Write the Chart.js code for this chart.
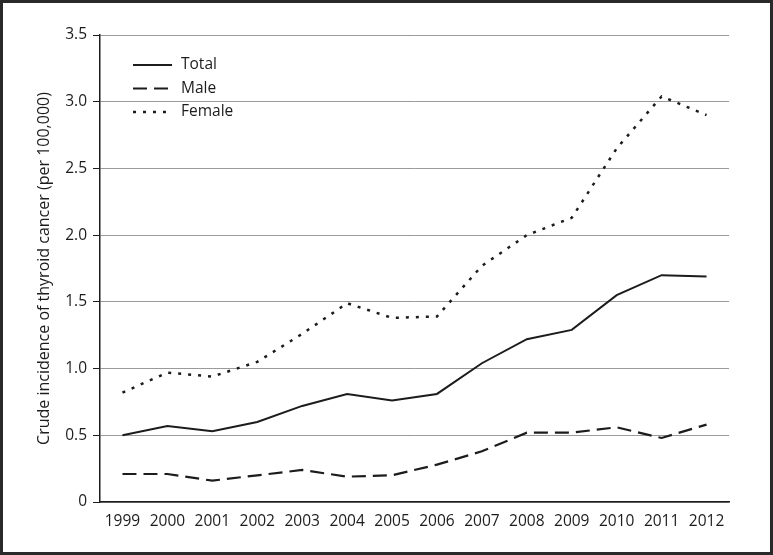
<!DOCTYPE html>
<html>
<head>
<meta charset="utf-8">
<script src="https://cdn.jsdelivr.net/npm/chart.js@4"></script>
<style>
  html, body { margin: 0; padding: 0; background: #fff; }
  #wrap { width: 773px; height: 555px; position: relative; }
</style>
</head>
<body>
<div id="wrap"><canvas id="chart" width="773" height="555"></canvas></div>
<script>
const years = ['1999', '2000', '2001', '2002', '2003', '2004', '2005', '2006', '2007', '2008', '2009', '2010', '2011', '2012'];
const totalValues = [0.50, 0.57, 0.53, 0.60, 0.72, 0.81, 0.76, 0.81, 1.04, 1.22, 1.29, 1.55, 1.70, 1.69];
const maleValues = [0.21, 0.21, 0.16, 0.20, 0.24, 0.19, 0.20, 0.28, 0.38, 0.52, 0.52, 0.56, 0.48, 0.58];
const femaleValues = [0.82, 0.97, 0.94, 1.05, 1.26, 1.49, 1.38, 1.39, 1.77, 2.00, 2.13, 2.65, 3.04, 2.90];
const yTicks = [0, 0.5, 1.0, 1.5, 2.0, 2.5, 3.0, 3.5];

const FONT = "'Open Sans', 'Noto Sans', sans-serif";
const INK = '#1c1c1c';

// legend drawn inside the plot, top-left, plus the outer frame
const extras = {
    id: 'extras',
    afterDraw(chart) {
        const ctx = chart.ctx;
        ctx.save();
        chart.data.datasets.forEach((ds, i) => {
            const y = 65 + i * 23.5;
            ctx.beginPath();
            ctx.strokeStyle = ds.borderColor;
            ctx.lineWidth = ds.borderWidth;
            ctx.setLineDash(ds.borderDash || []);
            ctx.moveTo(133, y);
            ctx.lineTo(172, y);
            ctx.stroke();
            ctx.setLineDash([]);
            ctx.fillStyle = INK;
            ctx.font = '15.5px ' + FONT;
            ctx.textBaseline = 'middle';
            ctx.fillText(ds.label, 181, y);
        });
        ctx.strokeStyle = '#2a2a2a';
        ctx.lineWidth = 3;
        ctx.strokeRect(1.5, 1.5, 770, 552);
        ctx.restore();
    }
};

const ctx = document.getElementById('chart').getContext('2d');
new Chart(ctx, {
    type: 'line',
    data: {
        labels: years,
        datasets: [{
            label: 'Total',
            data: totalValues,
            borderColor: INK,
            borderWidth: 2,
            pointRadius: 0
        }, {
            label: 'Male',
            data: maleValues,
            borderColor: INK,
            borderWidth: 2.2,
            borderDash: [14, 7],
            pointRadius: 0
        }, {
            label: 'Female',
            data: femaleValues,
            borderColor: INK,
            borderWidth: 2.5,
            borderDash: [3, 7],
            pointRadius: 0
        }]
    },
    options: {
        responsive: false,
        animation: false,
        layout: { padding: { left: 31, top: 35, right: 44, bottom: 23 } },
        plugins: {
            legend: { display: false },
            tooltip: { enabled: false }
        },
        scales: {
            x: {
                offset: true,
                grid: { display: false, drawTicks: false },
                border: { color: INK, width: 1.5 },
                ticks: { color: INK, font: { family: FONT, size: 15.5 }, padding: 10, maxRotation: 0, autoSkip: false },
                afterFit(scale) { scale.height = 30; }
            },
            y: {
                min: 0,
                max: 3.5,
                afterBuildTicks(scale) { scale.ticks = yTicks.map(v => ({ value: v })); },
                grid: { color: '#9a9a9a', lineWidth: 1, tickLength: 7, tickColor: INK, drawOnChartArea: true },
                border: { color: INK, width: 1.5 },
                ticks: {
                    color: INK,
                    font: { family: FONT, size: 15.5 },
                    padding: 6,
                    callback: v => v === 0 ? '0' : v.toFixed(1)
                },
                title: {
                    display: true,
                    text: 'Crude incidence of thyroid cancer (per 100,000)',
                    color: INK,
                    font: { family: FONT, size: 16 }
                },
                afterFit(scale) { scale.width = 69; }
            }
        }
    },
    plugins: [extras]
});
</script>
</body>
</html>
